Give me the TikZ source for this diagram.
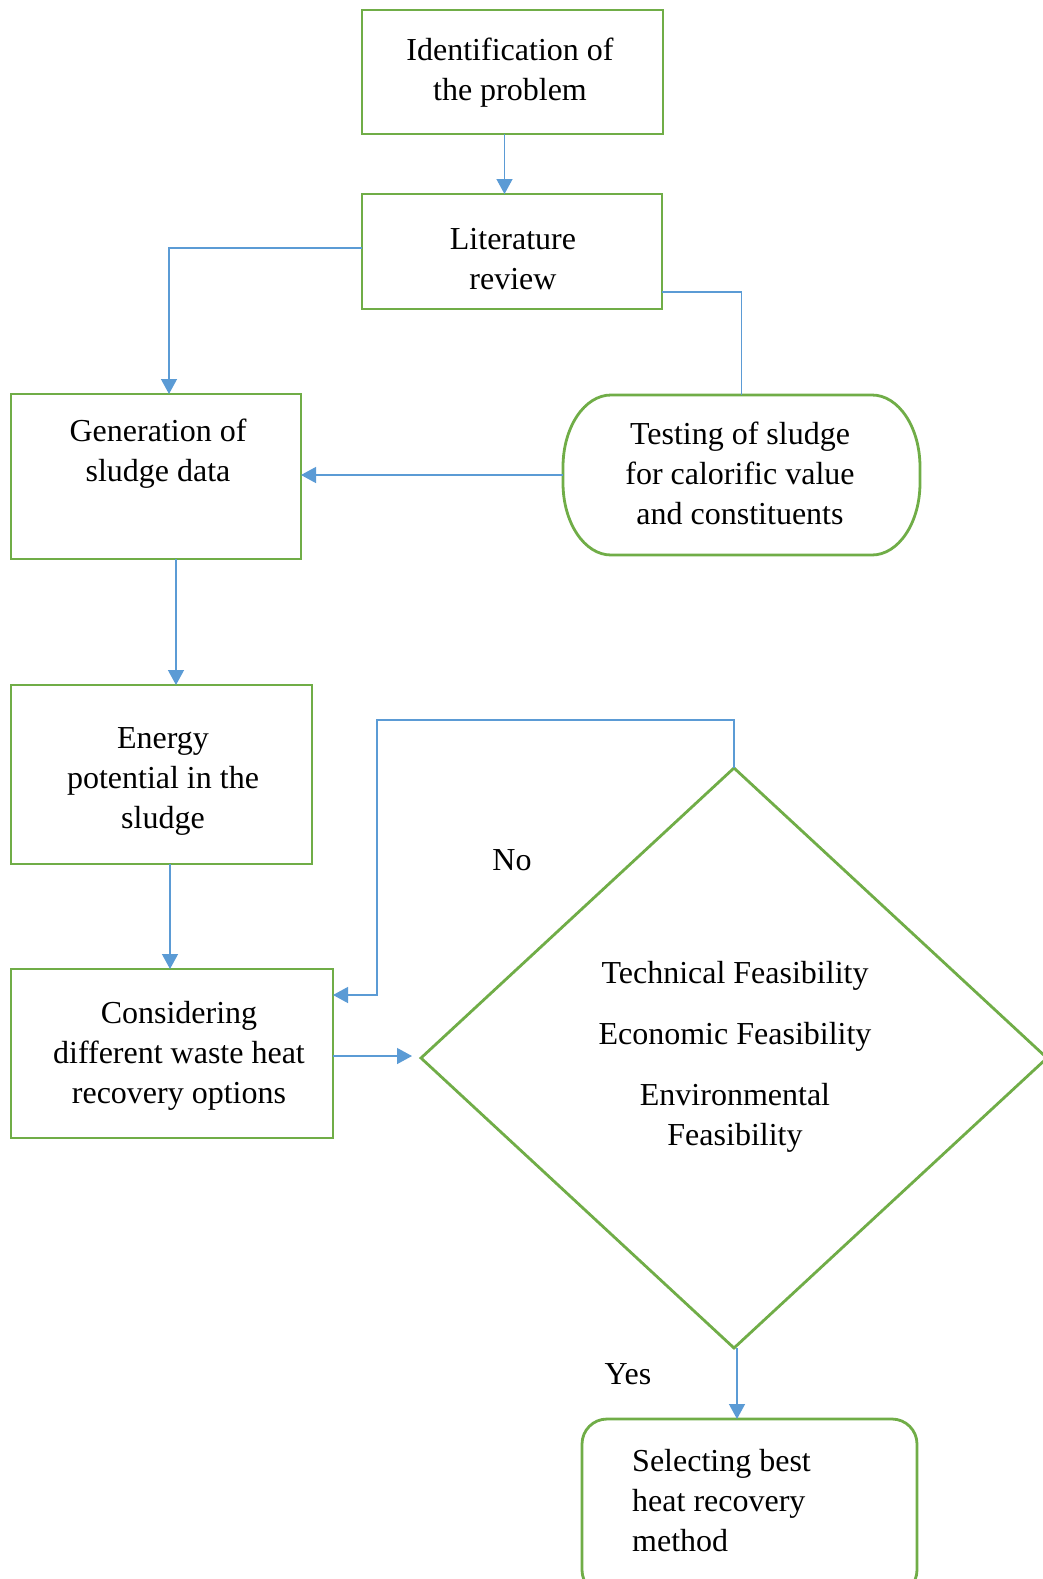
\documentclass[tikz,border=0pt]{standalone}
\usepackage{fontspec}
\setmainfont{Liberation Serif}
\usetikzlibrary{arrows.meta,shapes.geometric}
\definecolor{boxgreen}{HTML}{70AD47}
\definecolor{linkblue}{HTML}{5B9BD5}
\begin{document}
\begin{tikzpicture}[x=1pt,y=1pt,
  box/.style={draw=boxgreen,line width=2.8pt,rectangle,inner sep=0pt,outer sep=0pt},
  txt/.style={inner sep=0pt,align=center,font=\fontsize{32}{40}\selectfont},
  link/.style={draw=linkblue,line width=1.3pt},
  arr/.style={link,-{Triangle[length=15pt,width=16pt]}}]
\useasboundingbox (0,0) rectangle (1043,-1579);
\clip (0,0) rectangle (1043,-1579);
\fill[white] (0,0) rectangle (1043,-1579);
% boxes
\node[box,minimum width=301pt,minimum height=124pt] (box1) at (512.5,-72) {};
\node[box,minimum width=300pt,minimum height=115pt] (box2) at (512,-251.5) {};
\node[box,minimum width=290pt,minimum height=165pt] (gen) at (156,-476.5) {};
\node[inner sep=0pt,outer sep=0pt,minimum width=357pt,minimum height=160pt] (test) at (741.5,-475) {};
\draw[draw=boxgreen,line width=2.8pt]
  (611,-395) -- (872,-395)
  arc[start angle=90,end angle=0,x radius=48,y radius=72] -- (920,-483)
  arc[start angle=0,end angle=-90,x radius=48,y radius=72] -- (611,-555)
  arc[start angle=-90,end angle=-180,x radius=48,y radius=72] -- (563,-467)
  arc[start angle=180,end angle=90,x radius=48,y radius=72] -- cycle;
\node[box,minimum width=301pt,minimum height=179pt] (energy) at (161.5,-774.5) {};
\node[box,minimum width=322pt,minimum height=169pt] (cons) at (172,-1053.5) {};
\node[draw=boxgreen,line width=2.8pt,shape=diamond,inner sep=0pt,outer sep=0pt,minimum width=626pt,minimum height=580pt] (dia) at (734,-1058) {};
\node[box,rounded corners=25pt,minimum width=335pt,minimum height=176pt] (sel) at (749.5,-1507) {};
% texts
\node[txt] (t1) at (510,-72.5) {Identification of\\the problem};
\node[txt] (t2) at (513,-259.5) {Literature\\review};
\node[txt] (t3) at (158,-454) {Generation of\\sludge data};
\node[txt] (t4) at (740,-473) {Testing of sludge\\for calorific value\\and constituents};
\node[txt] (t5) at (163,-781) {Energy\\potential in the\\sludge};
\node[txt] (t6) at (179,-1055.5) {Considering\\different waste heat\\recovery options};
\node[txt] (t7) at (735,-976) {Technical Feasibility};
\node[txt] (t8) at (735,-1037) {Economic Feasibility};
\node[txt] (t9) at (735,-1117.5) {Environmental\\Feasibility};
\node[txt,align=left,anchor=west] (t10) at (632,-1501) {Selecting best\\heat recovery\\method};
\node[txt] (no) at (512,-860) {No};
\node[txt] (yes) at (628,-1374) {Yes};
% connectors
\draw[arr] ([xshift=-8pt]box1.south) -- ([xshift=-8pt]box1.south |- box2.north);
\draw[arr] ([yshift=3.5pt]box2.west) -| ([xshift=13pt]gen.north);
\draw[link] ([yshift=-40.5pt]box2.east) -| (test.north);
\draw[arr] (test.west) -- (test.west -| gen.east);
\draw[arr] ([xshift=20pt]gen.south) -- ([xshift=20pt]gen.south |- energy.north);
\draw[arr] ([xshift=8.5pt]energy.south) -- ([xshift=8.5pt]energy.south |- cons.north);
\draw[arr,shorten >=9pt] ([yshift=-2.5pt]cons.east) -- ([yshift=-2.5pt]cons.east -| dia.west);
\coordinate (loopc) at (377,-720);
\draw[arr] (dia.north) |- (loopc) |- ([yshift=58.5pt]cons.east);
\draw[arr] ([xshift=3pt]dia.south) -- ([xshift=3pt]dia.south |- sel.north);
\end{tikzpicture}
\end{document}
